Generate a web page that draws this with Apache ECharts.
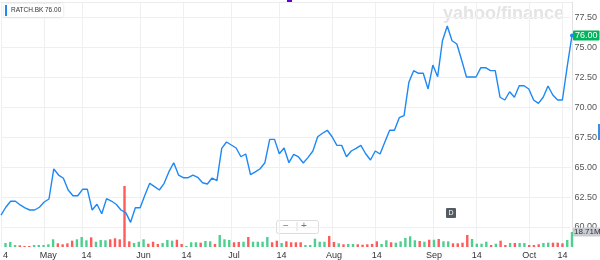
<!DOCTYPE html>
<html>
<head>
<meta http-equiv="Content-Type" content="text/html; charset=utf-8" />
<title>RATCH.BK</title>
<script type="text/javascript" src="https://cdn.jsdelivr.net/npm/echarts@6/dist/echarts.min.js"></script>
<style>
  html, body { margin: 0; padding: 0; background: #fff; }
  #chart { width: 600px; height: 260px; }
</style>
</head>
<body>
<div id="chart"></div>
<script type="text/javascript">
// daily closing price (THB), one value per trading day
var closes = [
  61.0, 61.65, 62.15, 62.15, 61.84, 61.6, 61.42, 61.42, 61.65, 62.09,
  62.34, 64.85, 64.34, 64.07, 63.09, 62.61, 62.61, 63.15, 63.15, 61.42,
  61.9, 61.11, 62.37, 62.17, 61.9, 61.42, 61.2, 60.39, 61.61, 61.61,
  62.67, 63.65, 63.37, 63.09, 63.65, 64.62, 65.37, 64.34, 64.12, 64.12,
  64.34, 64.15, 63.7,
  63.59, 64.09, 63.87, 66.57, 67.1, 66.85, 66.6, 65.87, 66.1, 64.37,
  64.6, 64.87, 65.37, 67.32, 67.32, 66.12, 66.6, 65.37, 66.07, 65.85,
  65.35, 65.82, 66.35, 67.54, 67.83, 68.08, 67.54, 66.82, 66.82, 65.87,
  66.35, 66.57, 66.82, 66.12, 65.6, 66.35, 66.1, 67.1, 68.08, 68.08,
  69.13,
  69.3, 72.09, 73.06, 72.84, 72.84, 71.53, 73.53, 72.56, 75.56, 76.79,
  75.56, 75.29, 73.95, 72.53, 72.53, 72.53, 73.31, 73.31, 73.06, 73.06,
  70.84, 70.61, 71.3, 70.84, 71.8, 71.8, 71.53, 70.61, 70.33, 70.84,
  71.78, 71.03, 70.61, 70.61,
  73.4, 76.0
];
// daily volume, millions of shares
var volumes = [
  5.0, 6.3, 2.5, 2.1, 1.3, 1.3, 2.5, 2.5, 2.5, 3.4, 9.6, 4.6, 3.4, 4.6, 7.9, 9.6, 12.5, 8.4, 12.1, 6.6,
  8.8, 8.4, 9.6, 10.9, 9.6, 76.3, 7.1, 5.0, 6.6, 9.6, 4.1, 6.6, 3.8, 5.0, 8.8, 7.9, 9.1, 3.8, 1.3, 5.9, 5.9,
  5.4, 7.5, 7.1, 3.8, 15.0, 9.6, 8.8, 5.9, 6.3, 6.6, 12.5, 6.6, 6.6, 6.6, 12.5, 5.9, 7.9, 5.0, 7.1, 5.9,
  5.9, 5.9, 2.5, 2.5, 10.4, 6.6, 6.6, 13.8, 6.3, 4.6, 3.4, 3.8, 3.8, 3.4, 2.9, 3.4, 3.8, 7.1, 3.8, 8.4, 5.9,
  5.4, 7.1, 11.3, 13.4, 8.4, 7.5, 6.6, 9.1, 9.1, 10.0, 7.1, 7.1, 4.6, 4.6, 5.4, 15.0, 10.0, 4.1, 4.1, 6.6,
  2.5, 4.1, 7.9, 2.5, 5.0, 5.0, 5.0, 5.0, 2.5, 2.5, 3.4, 5.0, 5.4, 5.4, 5.4, 4.6, 8.8, 18.71
];
// 1 = up day (green volume bar), 0 = down day (red)
var volumeUp = [
  1,1,1,0,0,0,1,1,1,1,1,0,0,0,0,1,1,1,0,1,1,1,0,0,0,0,0,1,1,1,0,0,0,1,1,1,0,0,1,1,1,
  0,1,1,0,1,1,1,0,0,1,0,1,1,1,1,0,0,1,0,0,0,0,1,1,1,1,1,0,0,1,0,1,1,0,0,0,0,0,1,1,0,
  1,1,1,1,1,0,1,0,1,0,1,1,0,0,0,0,1,1,1,1,0,1,0,0,1,0,1,1,0,0,0,1,1,0,0,0,1,1
];
// x axis ticks: trading day index and its label
var tickIndex = [0, 9, 17, 29, 38, 48, 58, 69, 78, 90, 99, 110, 117];
var tickText = ['4', 'May', '14', 'Jun', '14', 'Jul', '14', 'Aug', '14', 'Sep', '14', 'Oct', '14'];
// price axis tick labels
var priceTicks = [60, 62.5, 65, 67.5, 70, 72.5, 75, 77.5];
var lastPrice = 76.00;
var lastVolume = 18.71;

var days = [];
for (var i = 0; i < closes.length; i++) days.push(String(i));
var tickMap = {};
for (var k = 0; k < tickIndex.length; k++) tickMap[tickIndex[k]] = tickText[k];
function isTick(idx) { return tickMap[idx] !== undefined; }

var GREEN = '#4ccf8f', RED = '#ff5b5b', BLUE = '#1e88f5';
var FONT = 'Liberation Sans';
var HIDDEN_LINE = { color: 'rgba(0,0,0,0)', width: 1 };

var chart = echarts.init(document.getElementById('chart'), null, { renderer: 'canvas' });
var option = {
  animation: false,
  textStyle: { fontFamily: FONT },
  grid: [
    { left: 1, right: 28, top: 2, height: 245 },      // price line
    { left: 1, right: 28, top: 186, height: 61 },     // volume bars
    { left: 1, right: 28, top: 17.5, height: 209.5 }  // price gridlines + labels
  ],
  xAxis: [
    {
      gridIndex: 0, type: 'category', data: days, boundaryGap: false, position: 'top',
      axisLine: { show: true, lineStyle: { color: '#ececec' } },
      axisTick: { show: false }, axisLabel: { show: false },
      splitLine: { show: true, interval: isTick, lineStyle: { color: '#f0f0f0' } }
    },
    {
      gridIndex: 1, type: 'category', data: days, boundaryGap: false,
      axisLine: { show: false }, axisTick: { show: false },
      axisLabel: {
        interval: isTick, margin: 4, fontSize: 9, color: '#333',
        formatter: function (v, idx) { return tickMap[idx] || ''; }
      },
      splitLine: { show: false }
    },
    {
      gridIndex: 2, type: 'category', data: days, boundaryGap: false, show: false
    }
  ],
  yAxis: [
    {
      gridIndex: 0, type: 'value', position: 'right',
      min: 60 - 20 / 11.97, max: 60 + 225 / 11.97,
      axisLine: { show: true, lineStyle: { color: '#e2e2e2' } },
      axisTick: { show: false }, axisLabel: { show: false }, splitLine: { show: false }
    },
    {
      gridIndex: 1, type: 'value', min: 0, max: 76.25, show: false
    },
    {
      gridIndex: 2, type: 'value', position: 'right',
      min: priceTicks[0], max: priceTicks[priceTicks.length - 1], interval: 2.5,
      axisLine: { show: false }, axisTick: { show: false },
      axisLabel: {
        margin: 4, fontSize: 9, color: '#555',
        formatter: function (v) { return v.toFixed(2); }
      },
      splitLine: { show: true, lineStyle: { color: '#efefef' } }
    }
  ],
  series: [
    {
      name: 'RATCH.BK', type: 'line', xAxisIndex: 0, yAxisIndex: 0,
      data: closes, showSymbol: false, smooth: false,
      lineStyle: { color: BLUE, width: 1.4 },
      markPoint: {
        symbol: 'circle', symbolSize: 4, silent: true,
        itemStyle: { color: BLUE },
        label: { show: false },
        data: [{ coord: [closes.length - 1, lastPrice] }]
      },
      markLine: {
        symbol: 'none', silent: true,
        lineStyle: HIDDEN_LINE,
        label: {
          show: true, position: 'end', distance: 1, formatter: lastPrice.toFixed(2),
          backgroundColor: '#00b35c', color: '#fff', fontSize: 9,
          padding: [1, 2, 0, 2], borderRadius: 1
        },
        emphasis: { disabled: true },
        data: [{ yAxis: lastPrice }]
      }
    },
    {
      name: 'Volume', type: 'bar', xAxisIndex: 1, yAxisIndex: 1,
      barWidth: 2.4,
      data: volumes.map(function (v, i) {
        return { value: v, itemStyle: { color: volumeUp[i] ? GREEN : RED } };
      }),
      markLine: {
        symbol: 'none', silent: true,
        lineStyle: HIDDEN_LINE,
        label: {
          show: true, position: 'end', distance: 1, formatter: lastVolume.toFixed(2) + 'M',
          backgroundColor: '#c9cdd3', color: '#333', fontSize: 8,
          padding: [1, 1, 0, 1], borderRadius: 1
        },
        emphasis: { disabled: true },
        data: [{ yAxis: lastVolume }]
      }
    }
  ],
  graphic: [
    // watermark
    { type: 'text', left: 443, top: 5, silent: true,
      style: { text: 'yahoo/finance', fontSize: 18, fontWeight: 'bold', fontFamily: FONT, fill: '#e4e4e4' } },
    // legend chip
    { type: 'rect', left: 4, top: 4, silent: true, z: 10,
      shape: { width: 59, height: 13, r: 2 },
      style: { fill: '#fff', shadowBlur: 3, shadowColor: 'rgba(0,0,0,0.15)' } },
    { type: 'rect', left: 5, top: 5, silent: true, z: 11,
      shape: { width: 2, height: 11 }, style: { fill: BLUE } },
    { type: 'text', left: 11, top: 7, silent: true, z: 11,
      style: { text: 'RATCH.BK', fontSize: 6.5, fontFamily: FONT, fill: '#333' } },
    { type: 'text', left: 45, top: 7, silent: true, z: 11,
      style: { text: lastPrice.toFixed(2), fontSize: 6.5, fontFamily: FONT, fill: '#333' } },
    // small purple tab at top
    { type: 'rect', left: 287, top: 0, silent: true,
      shape: { width: 5, height: 3 }, style: { fill: '#6001d2' } },
    // zoom control
    { type: 'rect', left: 276, top: 220, silent: true,
      shape: { width: 42, height: 13, r: 2 },
      style: { fill: '#fff', stroke: '#dcdcdc', lineWidth: 1 } },
    { type: 'line', silent: true,
      shape: { x1: 297, y1: 222, x2: 297, y2: 231 }, style: { stroke: '#dcdcdc' } },
    { type: 'text', left: 283, top: 221, silent: true,
      style: { text: '\u2212', fontSize: 10, fontFamily: FONT, fill: '#777' } },
    { type: 'text', left: 301, top: 221, silent: true,
      style: { text: '+', fontSize: 10, fontFamily: FONT, fill: '#777' } },
    // interval badge
    { type: 'rect', left: 446, top: 208, silent: true,
      shape: { width: 10, height: 10, r: 1 }, style: { fill: '#555b63' } },
    { type: 'text', left: 448.5, top: 209.5, silent: true,
      style: { text: 'D', fontSize: 7, fontFamily: FONT, fill: '#fff' } },
    // scroll marker on right edge
    { type: 'rect', left: 598, top: 124, silent: true,
      shape: { width: 2, height: 16 }, style: { fill: '#3a8ee6' } }
  ]
};
chart.setOption(option);
</script>
</body>
</html>
